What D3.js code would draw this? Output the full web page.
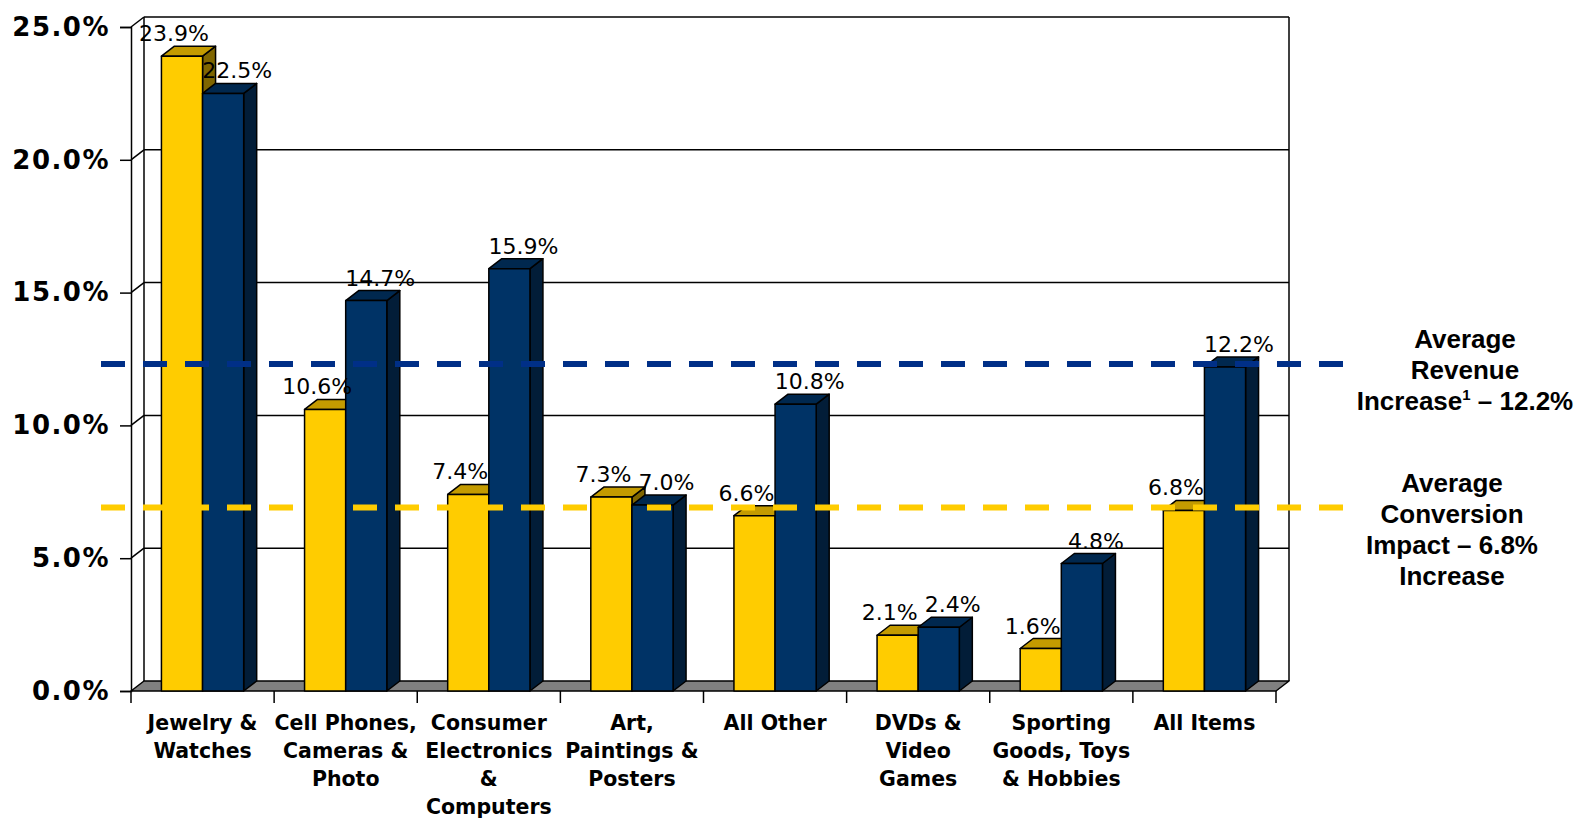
<!DOCTYPE html>
<html>
<head>
<meta charset="utf-8">
<script src="https://cdnjs.cloudflare.com/ajax/libs/d3/7.8.5/d3.min.js"></script>
<style>
  body { margin: 0; background: #fff; }
</style>
</head>
<body>
<div id="draw"></div>
<script>
// data
const categories = [
    ["Jewelry &", "Watches"],
    ["Cell Phones,", "Cameras &", "Photo"],
    ["Consumer", "Electronics", "&", "Computers"],
    ["Art,", "Paintings &", "Posters"],
    ["All Other"],
    ["DVDs &", "Video", "Games"],
    ["Sporting", "Goods, Toys", "& Hobbies"],
    ["All Items"]
];
const series = ["conversion", "revenue"];
const conversionImpact = [23.9, 10.6, 7.4, 7.3, 6.6, 2.1, 1.6, 6.8];
const revenueIncrease = [22.5, 14.7, 15.9, 7.0, 10.8, 2.4, 4.8, 12.2];
const yTicks = [0, 5, 10, 15, 20, 25];
const averages = [12.2, 6.8];  // revenue, conversion
const revenueNote = ["Average", "Revenue", "Increase"];
const conversionNote = ["Average", "Conversion", "Impact \u2013 6.8%", "Increase"];

class Bar3DChart {

    constructor(){
        this.w = 1594;
        this.h = 821;
        //depth of the fake 3d
        this.dx = 13;
        this.dy = 10;
        this.colors = {
            conversion: {front: "#ffcc00", top: "#c49b00", side: "#806600", line: "#ffcc00"},
            revenue: {front: "#003366", top: "#00284f", side: "#021d38", line: "#002f87"}
        };
    }

    render(){
        this.svg = d3.select("#draw").append("svg")
            .attr("width", this.w)
            .attr("height", this.h);
        this._scales();
        this._walls();
        this._bars();
        this._averageLines();
        this._axes();
        this._notes();
    }

    _scales(){
        this.y = d3.scaleLinear().domain([0, 25]).range([691, 27]);
        this.x0 = d3.scaleBand().domain(d3.range(categories.length)).range([131, 1276]);
        this.x1 = d3.scaleBand().domain(series).range([0, this.x0.bandwidth()]).paddingOuter(0.74);
    }

    _walls(){
        const y = this.y, dx = this.dx, dy = this.dy;
        const left = 131, right = 1276;
        //back wall gridlines
        yTicks.filter(t => t > 0).forEach(t => {
            this.svg.append("line")
                .attr("x1", left + dx).attr("x2", right + dx)
                .attr("y1", y(t) - dy).attr("y2", y(t) - dy)
                .attr("stroke", "#000").attr("stroke-width", 1.5);
            this.svg.append("line")
                .attr("x1", left).attr("x2", left + dx)
                .attr("y1", y(t)).attr("y2", y(t) - dy)
                .attr("stroke", "#000").attr("stroke-width", 1.5);
        });
        //left edge of back wall and right edge
        [left + dx, right + dx].forEach(xx => {
            this.svg.append("line")
                .attr("x1", xx).attr("x2", xx)
                .attr("y1", y(25) - dy).attr("y2", y(0) - dy)
                .attr("stroke", "#000").attr("stroke-width", 1.5);
        });
        //floor
        this.svg.append("path")
            .attr("d", `M${left},${y(0)}L${right},${y(0)}L${right + dx},${y(0) - dy}L${left + dx},${y(0) - dy}Z`)
            .attr("fill", "#808080")
            .attr("stroke", "#000").attr("stroke-width", 1.5)
            .attr("stroke-linejoin", "round");
    }

    _bars(){
        const y = this.y, dx = this.dx, dy = this.dy;
        const values = {conversion: conversionImpact, revenue: revenueIncrease};
        categories.forEach((c, i) => {
            series.forEach(s => {
                const v = values[s][i];
                const x = this.x0(i) + this.x1(s);
                const bw = this.x1.bandwidth();
                const top = y(v), base = y(0);
                const col = this.colors[s];
                const g = this.svg.append("g").attr("stroke", "#000").attr("stroke-width", 1.5).attr("stroke-linejoin", "round");
                g.append("path")
                    .attr("d", `M${x + bw},${top}L${x + bw + dx},${top - dy}L${x + bw + dx},${base - dy}L${x + bw},${base}Z`)
                    .attr("fill", col.side);
                g.append("path")
                    .attr("d", `M${x},${top}L${x + dx},${top - dy}L${x + bw + dx},${top - dy}L${x + bw},${top}Z`)
                    .attr("fill", col.top);
                g.append("rect")
                    .attr("x", x).attr("y", top)
                    .attr("width", bw).attr("height", base - top)
                    .attr("fill", col.front);
            });
        });
    }

    _averageLines(){
        const y = this.y;
        [["revenue", averages[0]], ["conversion", averages[1]]].forEach(([s, v]) => {
            this.svg.append("line")
                .attr("x1", 101).attr("x2", 1343)
                .attr("y1", y(v) - 3).attr("y2", y(v) - 3)
                .attr("stroke", this.colors[s].line)
                .attr("stroke-width", 6)
                .attr("stroke-dasharray", "24,18");
        });
    }

    _axes(){
        const y = this.y;
        const values = {conversion: conversionImpact, revenue: revenueIncrease};
        //value labels over the bars
        categories.forEach((c, i) => {
            series.forEach(s => {
                const v = values[s][i];
                const cx = this.x0(i) + this.x1(s) + this.x1.bandwidth() / 2 + (s == "conversion" ? -8 : 14);
                this.svg.append("text")
                    .attr("x", cx)
                    .attr("y", y(v) - 15)
                    .attr("text-anchor", "middle")
                    .style("font-family", "DejaVu Sans")
                    .style("font-size", "22px")
                    .text(v.toFixed(1) + "%");
            });
        });

        //y axis, front line plus ticks
        const yAxis = d3.axisLeft(y).tickValues(yTicks).tickSize(11).tickPadding(10)
            .tickFormat(d => d.toFixed(1) + "%");
        const ga = this.svg.append("g").attr("transform", "translate(131,0)").call(yAxis);
        ga.select(".domain").attr("stroke", "#000").attr("stroke-width", 1.5);
        ga.selectAll(".tick line").attr("stroke", "#000").attr("stroke-width", 1.5);
        ga.selectAll(".tick text")
            .style("font-family", "DejaVu Sans")
            .style("font-weight", "bold")
            .style("font-size", "26px")
            .style("letter-spacing", "1.5px")
            .attr("fill", "#000");

        //x ticks at category borders
        const borders = d3.range(categories.length + 1).map(i => i < categories.length ? this.x0(i) : this.x0.range()[1]);
        borders.forEach(bx => {
            this.svg.append("line")
                .attr("x1", bx).attr("x2", bx)
                .attr("y1", y(0)).attr("y2", y(0) + 12)
                .attr("stroke", "#000").attr("stroke-width", 1.5);
        });
        //category labels
        categories.forEach((lines, i) => {
            const t = this.svg.append("text")
                .attr("text-anchor", "middle")
                .style("font-family", "DejaVu Sans")
                .style("font-weight", "bold")
                .style("font-size", "20.5px");
            lines.forEach((l, k) => {
                t.append("tspan")
                    .attr("x", this.x0(i) + this.x0.bandwidth() / 2)
                    .attr("y", 730 + k * 28)
                    .text(l);
            });
        });
    }

    _notes(){
        const style = t => t.attr("text-anchor", "middle")
            .style("font-family", "Liberation Sans, Arial")
            .style("font-weight", "bold")
            .style("font-size", "26px");
        const t1 = this.svg.append("text").call(style);
        revenueNote.forEach((l, k) => {
            const ts = t1.append("tspan").attr("x", 1465).attr("y", 348 + k * 31).text(l);
            if (k == revenueNote.length - 1) {
                t1.append("tspan").attr("dy", -10).style("font-size", "15px").text("1");
                t1.append("tspan").attr("dy", 10).text(" \u2013 " + averages[0].toFixed(1) + "%");
            }
        });
        const t2 = this.svg.append("text").call(style);
        conversionNote.forEach((l, k) => {
            t2.append("tspan").attr("x", 1452).attr("y", 492 + k * 31).text(l);
        });
    }
}

new Bar3DChart().render();
</script>
</body>
</html>
